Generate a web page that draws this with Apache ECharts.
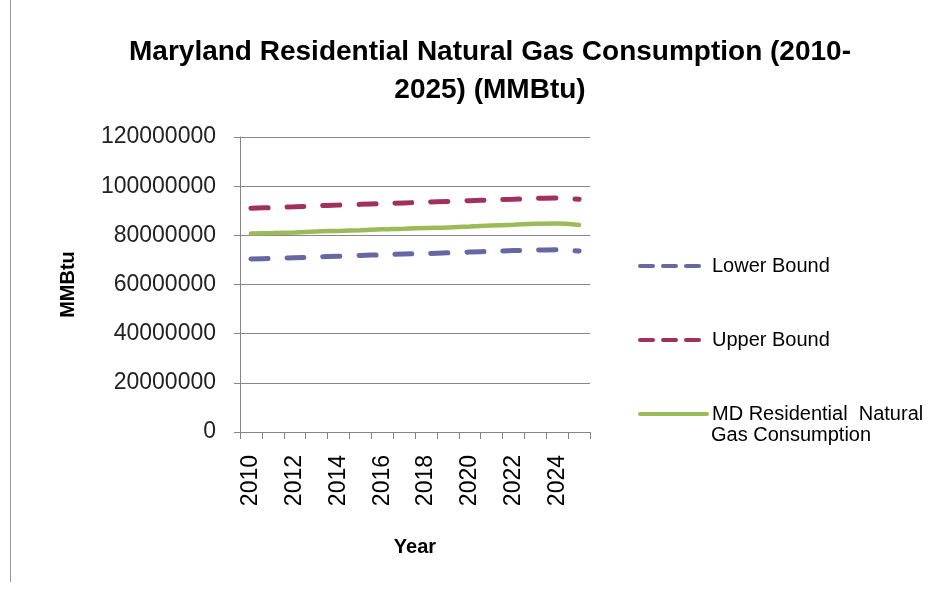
<!DOCTYPE html>
<html>
<head>
<meta charset="utf-8">
<script src="https://cdn.jsdelivr.net/npm/echarts@6/dist/echarts.min.js"></script>
<style>
  html, body { margin: 0; padding: 0; background: #fff; }
  #chart { width: 950px; height: 590px; }
</style>
</head>
<body>
<div id="chart"></div>
<script>
// 年份（类目轴）
var years = ['2010', '2011', '2012', '2013', '2014', '2015', '2016', '2017',
             '2018', '2019', '2020', '2021', '2022', '2023', '2024', '2025'];

// 各系列数据 (MMBtu)
var lowerBound = [70400000, 70600000, 70900000, 71200000, 71500000, 71800000, 72100000, 72400000,
                  72600000, 72900000, 73200000, 73500000, 73800000, 74000000, 74100000, 73600000];
var upperBound = [91000000, 91300000, 91600000, 92000000, 92300000, 92600000, 92900000, 93200000,
                  93500000, 93800000, 94100000, 94400000, 94700000, 95000000, 95200000, 94700000];
var consumption = [80700000, 80900000, 81200000, 81600000, 81800000, 82100000, 82500000, 82700000,
                   83000000, 83200000, 83600000, 84000000, 84300000, 84700000, 84800000, 84200000];

// y轴刻度
var yTicks = [0, 20000000, 40000000, 60000000, 80000000, 100000000, 120000000];

var chart = echarts.init(document.getElementById('chart'));

var font = 'Liberation Sans, Arial, sans-serif';

var option = {
  animation: false,
  title: {
    text: 'Maryland Residential Natural Gas Consumption (2010-\n2025) (MMBtu)',
    left: 485,
    top: 28,
    textAlign: 'center',
    textStyle: {
      fontFamily: font,
      fontSize: 28,
      fontWeight: 'bold',
      color: '#000',
      lineHeight: 38
    }
  },
  legend: {
    orient: 'vertical',
    left: 633,
    top: 249,
    itemWidth: 67,
    itemHeight: 14,
    itemGap: 50,
    data: [
      { name: 'Lower Bound', lineStyle: { width: 4, type: [13, 10], cap: 'round' } },
      { name: 'Upper Bound', lineStyle: { width: 4, type: [13, 10], cap: 'round' } },
      { name: 'MD Residential  Natural', lineStyle: { width: 4, type: 'solid' } }
    ],
    itemStyle: { opacity: 0 },
    lineStyle: { width: 4 },
    textStyle: { fontFamily: font, fontSize: 20, color: '#000', lineHeight: 24 }
  },
  grid: { left: 240, right: 360, top: 137, bottom: 158 },
  xAxis: {
    type: 'category',
    data: years,
    boundaryGap: true,
    name: 'Year',
    nameLocation: 'middle',
    nameGap: 105,
    nameTextStyle: { fontFamily: font, fontSize: 20, fontWeight: 'bold', color: '#000' },
    axisLine: { lineStyle: { color: '#868686', width: 1 } },
    axisTick: { show: true, interval: 0, length: 7, lineStyle: { color: '#868686' } },
    axisLabel: {
      interval: 1,
      rotate: 90,
      fontFamily: font,
      fontSize: 23,
      color: '#000',
      margin: 23
    },
    splitLine: { show: false }
  },
  yAxis: {
    type: 'value',
    min: yTicks[0],
    max: yTicks[yTicks.length - 1],
    interval: 20000000,
    name: 'MMBtu',
    nameLocation: 'middle',
    nameGap: 162,
    nameRotate: 90,
    nameTextStyle: { fontFamily: font, fontSize: 20, fontWeight: 'bold', color: '#000' },
    axisLine: { show: true, lineStyle: { color: '#868686' } },
    axisTick: { show: true, length: 6, lineStyle: { color: '#868686' } },
    axisLabel: {
      fontFamily: font,
      fontSize: 23,
      color: '#222',
      margin: 24,
      formatter: function (v) { return String(v); }
    },
    splitLine: { lineStyle: { color: '#868686', width: 1 } }
  },
  series: [
    {
      name: 'Lower Bound',
      type: 'line',
      data: lowerBound,
      symbol: 'none',
      smooth: 0.3,
      lineStyle: { color: '#6668A6', width: 5, type: [17, 19], cap: 'round' },
      itemStyle: { color: '#6668A6' }
    },
    {
      name: 'Upper Bound',
      type: 'line',
      data: upperBound,
      symbol: 'none',
      smooth: 0.3,
      lineStyle: { color: '#A2305F', width: 5, type: [17, 19], cap: 'round' },
      itemStyle: { color: '#A2305F' }
    },
    {
      name: 'MD Residential  Natural',
      type: 'line',
      data: consumption,
      symbol: 'none',
      smooth: 0.3,
      lineStyle: { color: '#9BBB59', width: 4.5, cap: 'round' },
      itemStyle: { color: '#9BBB59' }
    }
  ],
  graphic: [
    {
      type: 'text',
      left: 711,
      top: 425,
      style: { text: 'Gas Consumption', font: '20px ' + font, fill: '#000' }
    },
    {
      type: 'line',
      shape: { x1: 10.5, y1: 0, x2: 10.5, y2: 582 },
      style: { stroke: '#9a9a9a', lineWidth: 1 }
    }
  ]
};

chart.setOption(option);
</script>
</body>
</html>
